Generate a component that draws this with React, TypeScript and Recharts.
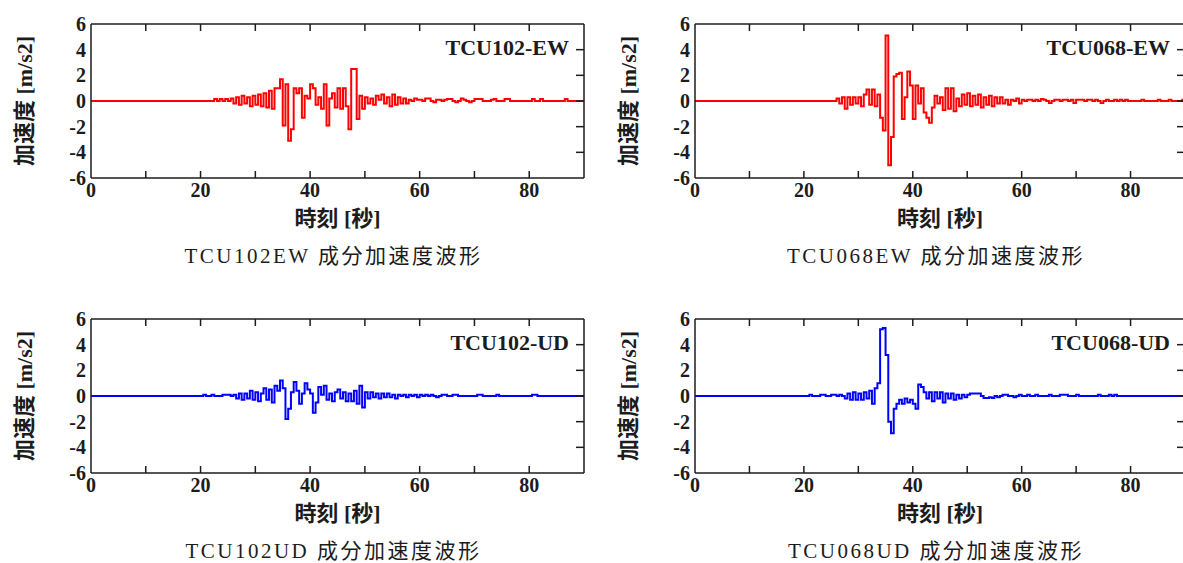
import React from "react";
import { LineChart, Line, XAxis, YAxis } from "recharts";

// time axis [s]: quiet until 20 s, then one sample every 0.5 s
const seconds = [
  0,
  20, 20.5, 21, 21.5, 22, 22.5, 23, 23.5, 24, 24.5,
  25, 25.5, 26, 26.5, 27, 27.5, 28, 28.5, 29, 29.5,
  30, 30.5, 31, 31.5, 32, 32.5, 33, 33.5, 34, 34.5,
  35, 35.5, 36, 36.5, 37, 37.5, 38, 38.5, 39, 39.5,
  40, 40.5, 41, 41.5, 42, 42.5, 43, 43.5, 44, 44.5,
  45, 45.5, 46, 46.5, 47, 47.5, 48, 48.5, 49, 49.5,
  50, 50.5, 51, 51.5, 52, 52.5, 53, 53.5, 54, 54.5,
  55, 55.5, 56, 56.5, 57, 57.5, 58, 58.5, 59, 59.5,
  60, 60.5, 61, 61.5, 62, 62.5, 63, 63.5, 64, 64.5,
  65, 65.5, 66, 66.5, 67, 67.5, 68, 68.5, 69, 69.5,
  70, 70.5, 71, 71.5, 72, 72.5, 73, 73.5, 74, 74.5,
  75, 75.5, 76, 76.5, 77, 77.5, 78, 78.5, 79, 79.5,
  80, 80.5, 81, 81.5, 82, 82.5, 83, 83.5, 84, 84.5,
  85, 85.5, 86, 86.5, 87, 87.5, 88, 88.5, 89, 89.5,
  90,
];

// acceleration [m/s2]
const tcu102EW = [
  0,
  0, 0, 0, 0, 0, 0.15, 0, 0.15, 0, 0.15,
  0, 0.2, -0.2, 0.3, -0.3, 0.4, -0.2, 0.3, -0.4, 0.4,
  -0.3, 0.5, -0.4, 0.6, -0.5, 0.8, -0.6, 1.0, 1.0, 1.7,
  -1.9, 1.3, -3.1, -2.2, 1.0, 0.6, 1.0, -1.3, 0.4, 0.2,
  1.3, 1.0, -0.3, 0.3, -0.6, 1.3, -1.9, 0.2, 0.6, -0.5,
  1.0, -0.6, 1.0, -0.4, -2.2, 2.5, 2.5, -1.4, 0.4, -0.6,
  0.3, -0.2, 0.2, -0.3, 0.4, 0.1, 0.5, -0.2, 0.3, -0.4,
  0.5, -0.3, 0.3, -0.2, 0.2, -0.2, 0.1, 0, 0.2, 0.1,
  0.1, 0, 0.2, 0.2, 0, -0.1, 0.1, 0.1, 0, 0.1,
  0.15, 0.15, 0, -0.1, 0, 0.2, 0.1, 0, -0.1, 0,
  0.15, 0.15, 0.15, 0, 0, 0, 0.1, 0.15, 0, 0,
  0, 0.15, 0.15, 0, 0, 0, 0, 0, 0, 0,
  0, 0.15, 0, 0, 0.15, 0, 0, 0, 0, 0,
  0, 0, 0, 0.15, 0, 0, 0, 0, 0, 0,
  0,
];

const tcu068EW = [
  0,
  0, 0, 0, 0, 0, 0, 0, 0, 0, 0,
  0, 0, 0.2, -0.2, 0.3, -0.6, 0.3, -0.3, 0.3, -0.2,
  0.3, -0.4, 0.5, 0.9, -0.3, 0.9, -0.4, 0.5, -1.3, -2.3,
  5.1, -5.0, -2.8, 1.9, 2.1, 2.2, -1.4, 0.3, 2.3, 1.2,
  -1.4, 1.2, -0.2, 1.0, -0.9, -1.3, -1.7, -0.5, 0.4, -0.2,
  0.3, -0.7, 1.0, -0.6, 1.0, -0.8, 0.2, -0.4, 0.5, -0.3,
  0.6, -0.4, 0.4, -0.3, 0.5, -0.5, 0.3, -0.3, 0.4, -0.4,
  0.3, -0.2, 0.3, -0.2, 0.1, -0.3, 0.1, 0, 0.2, -0.2,
  0.1, 0, 0.1, 0.1, 0, 0.1, 0, 0.15, 0.1, 0,
  -0.15, 0, 0.1, 0.1, 0, 0.1, 0.1, 0, 0.1, -0.15,
  0.1, 0.1, 0.1, 0, 0.1, 0.1, 0, 0.1, 0, -0.15,
  0, 0.1, 0, 0, 0.1, 0, 0.1, 0, 0.1, 0,
  0, 0, 0, 0, 0.1, 0, 0, 0, 0, 0,
  0.1, 0, 0, 0, 0.1, 0, 0, 0, 0, 0.1,
  0,
];

const tcu102UD = [
  0,
  0, 0.1, 0, 0, 0.1, 0, 0, 0, 0.1, 0.1,
  0.1, 0, 0.1, -0.2, 0.2, -0.3, 0.2, -0.2, 0.4, -0.3,
  0.3, -0.4, 0.2, 0.6, -0.3, 0.5, -0.5, 0.8, 0.4, 1.2,
  0.6, -1.8, -1.0, 0.3, 1.1, 0.4, -0.6, 0.2, 1.0, 0.5,
  0.2, -1.3, -0.5, 0.7, 0.1, 0.8, -0.3, 0.2, -0.4, 0.3,
  0.5, -0.2, 0.3, -0.4, 0.2, -0.4, 0.4, -0.6, 0.8, -0.9,
  0.3, -0.2, 0.3, -0.1, 0.2, -0.2, 0.2, -0.1, 0.2, -0.1,
  0.1, -0.2, 0.1, 0, 0.1, -0.1, 0.1, 0, 0.1, -0.1,
  0.1, 0, 0.1, 0, 0.1, 0, -0.1, 0, 0.1, 0.1,
  0, 0, 0.1, 0.1, 0, 0, 0, 0, 0, 0,
  0, 0.1, 0.1, 0, 0, 0, 0, 0, 0.1, 0,
  0, 0, 0, 0, 0, 0, 0, 0, 0, 0,
  0, 0.1, 0.1, 0, 0, 0, 0, 0, 0, 0,
  0, 0, 0, 0, 0, 0, 0, 0, 0, 0,
  0,
];

const tcu068UD = [
  0,
  0, 0, 0.1, 0, 0, 0, 0.1, 0.1, 0, 0,
  0.1, 0.1, 0, 0.1, 0, -0.2, 0.2, -0.3, 0.3, -0.3,
  0.2, -0.3, 0.3, -0.2, 0.4, -0.6, 0.6, 1.0, 5.2, 5.3,
  3.2, -2.0, -2.9, -1.0, -0.6, -0.3, -0.6, -0.2, -0.5, -0.3,
  -0.6, -1.0, 0.9, 0.7, 0.3, -0.2, 0.3, -0.4, 0.3, -0.2,
  0.3, -0.5, 0.2, -0.2, 0.2, -0.3, 0.1, -0.2, 0.1, -0.1,
  0.1, 0.2, 0.2, 0.2, 0.2, 0, -0.15, -0.15, -0.1, -0.15,
  0, -0.1, 0, 0.1, 0.1, 0, 0, -0.1, 0, 0.1,
  0, 0, 0.1, 0, 0, 0.1, 0, 0, 0, 0,
  0.1, 0, 0, 0, 0.1, 0.1, 0.1, 0, 0, 0,
  0.1, 0, 0, 0, 0, 0, 0, 0, 0.1, 0,
  0, 0, 0.1, 0, 0.1, 0, 0, 0, 0, 0,
  0, 0, 0, 0, 0, 0, 0, 0, 0, 0,
  0, 0, 0, 0, 0, 0, 0, 0, 0, 0,
  0,
];

const timeTicks = [0, 10, 20, 30, 40, 50, 60, 70, 80, 90];
const accelTicks = [-6, -4, -2, 0, 2, 4, 6];

const SERIF = "'Liberation Serif', 'Times New Roman', 'Noto Sans CJK JP', serif";
const INK = "#1c1c1c";
const axisLine = { stroke: INK, strokeWidth: 1.5 };

function BottomTick(props: any) {
  const { x, y, payload } = props;
  const v = payload.value;
  return (
    <g>
      {v > 0 && v < 90 && <line x1={x} y1={y} x2={x} y2={y - 7} stroke={INK} strokeWidth={1.5} />}
      {v % 20 === 0 && v < 90 && (
        <text x={x} y={y + 19} textAnchor="middle" fontFamily={SERIF} fontWeight="bold" fontSize={20} fill={INK}>
          {v}
        </text>
      )}
    </g>
  );
}

function TopTick(props: any) {
  const { x, y, payload } = props;
  const v = payload.value;
  if (v <= 0 || v >= 90) return <g />;
  return <line x1={x} y1={y} x2={x} y2={y + 7} stroke={INK} strokeWidth={1.5} />;
}

function LeftTick(props: any) {
  const { x, y, payload } = props;
  return (
    <text x={x - 5} y={y + 7} textAnchor="end" fontFamily={SERIF} fontWeight="bold" fontSize={20} fill={INK}>
      {payload.value}
    </text>
  );
}

function RightTick(props: any) {
  const { x, y, payload } = props;
  const v = payload.value;
  if (v <= -6 || v >= 6) return <g />;
  return <line x1={x} y1={y} x2={x - 8} y2={y} stroke={INK} strokeWidth={1.5} />;
}

function Panel({ left, top, plotWidth, values, color, station, caption }: any) {
  const data = seconds.map((t, i) => ({ t, a: values[i] }));
  const chartW = 91 + plotWidth + 16;
  const cx = 91 + plotWidth / 2;
  return (
    <div style={{ position: "absolute", left, top, width: chartW, height: 268 }}>
      <LineChart width={chartW} height={240} data={data} margin={{ top: 0, right: 0, bottom: 0, left: 0 }}>
        <XAxis
          xAxisId="b"
          dataKey="t"
          type="number"
          domain={[0, 90]}
          ticks={timeTicks}
          interval={0}
          orientation="bottom"
          height={62}
          tickSize={0}
          tickMargin={0}
          tickLine={false}
          axisLine={axisLine}
          tick={BottomTick}
          allowDataOverflow
        />
        <XAxis
          xAxisId="t"
          dataKey="t"
          type="number"
          domain={[0, 90]}
          ticks={timeTicks}
          interval={0}
          orientation="top"
          height={24}
          tickSize={0}
          tickMargin={0}
          tickLine={false}
          axisLine={axisLine}
          tick={TopTick}
          allowDataOverflow
        />
        <YAxis
          yAxisId="l"
          type="number"
          domain={[-6, 6]}
          ticks={accelTicks}
          interval={0}
          orientation="left"
          width={91}
          tickSize={0}
          tickMargin={0}
          tickLine={false}
          axisLine={axisLine}
          tick={LeftTick}
          allowDataOverflow
        />
        <YAxis
          yAxisId="r"
          type="number"
          domain={[-6, 6]}
          ticks={accelTicks}
          interval={0}
          orientation="right"
          width={16}
          tickSize={0}
          tickMargin={0}
          tickLine={false}
          axisLine={axisLine}
          tick={RightTick}
          allowDataOverflow
        />
        <Line
          xAxisId="b"
          yAxisId="l"
          dataKey="a"
          type="stepAfter"
          stroke={color}
          strokeWidth={2}
          dot={false}
          isAnimationActive={false}
        />
      </LineChart>
      <div
        style={{
          position: "absolute",
          left: 22,
          top: 101,
          transform: "translate(-50%, -50%) rotate(-90deg)",
          whiteSpace: "nowrap",
          fontFamily: SERIF,
          fontWeight: "bold",
          fontSize: 22,
          color: INK,
        }}
      >
        加速度 [m/s2]
      </div>
      <div
        style={{
          position: "absolute",
          left: cx,
          top: 216,
          transform: "translate(-50%, -50%)",
          whiteSpace: "nowrap",
          fontFamily: SERIF,
          fontWeight: "bold",
          fontSize: 22,
          color: INK,
        }}
      >
        時刻 [秒]
      </div>
      <div
        style={{
          position: "absolute",
          right: 16 + 15,
          top: 48,
          transform: "translateY(-50%)",
          whiteSpace: "nowrap",
          fontFamily: SERIF,
          fontWeight: "bold",
          fontSize: 22,
          color: INK,
        }}
      >
        {station}
      </div>
      <div
        style={{
          position: "absolute",
          left: cx - 4,
          top: 256,
          transform: "translate(-50%, -50%)",
          whiteSpace: "nowrap",
          fontFamily: SERIF,
          fontSize: 21,
          letterSpacing: 2.5,
          lineHeight: "22px",
          color: INK,
        }}
      >
        {caption}
      </div>
    </div>
  );
}

export default function App() {
  return (
    <div
      style={{
        position: "absolute",
        left: 0,
        top: 0,
        width: 1183,
        height: 563,
        overflow: "hidden",
        background: "#fff",
      }}
    >
      <Panel left={0} top={0} plotWidth={493} values={tcu102EW} color="#ff0000" station="TCU102-EW" caption="TCU102EW 成分加速度波形" />
      <Panel left={604} top={0} plotWidth={490} values={tcu068EW} color="#ff0000" station="TCU068-EW" caption="TCU068EW 成分加速度波形" />
      <Panel left={0} top={295} plotWidth={493} values={tcu102UD} color="#0000ff" station="TCU102-UD" caption="TCU102UD 成分加速度波形" />
      <Panel left={604} top={295} plotWidth={490} values={tcu068UD} color="#0000ff" station="TCU068-UD" caption="TCU068UD 成分加速度波形" />
    </div>
  );
}
